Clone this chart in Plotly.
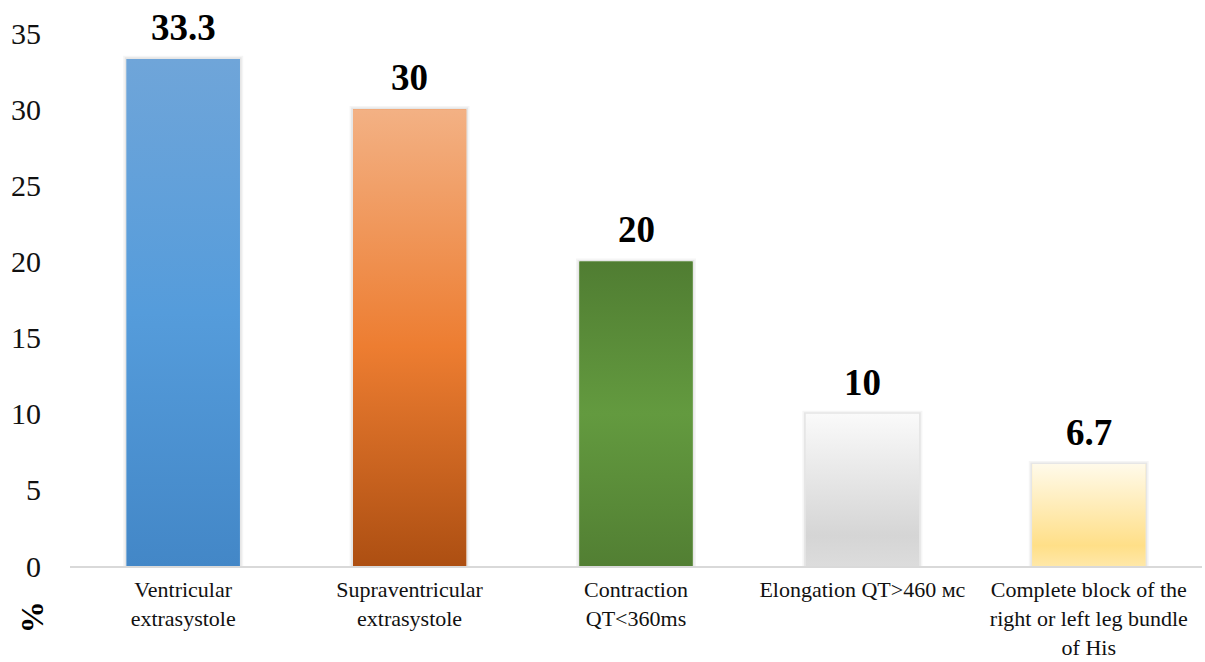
import plotly.graph_objects as go

categories = [
    "Ventricular<br>extrasystole",
    "Supraventricular<br>extrasystole",
    "Contraction<br>QT<360ms",
    "Elongation QT>460 мс",
    "Complete block of the<br>right or left leg bundle<br>of His",
]
values = [33.3, 30, 20, 10, 6.7]
value_labels = ["33.3", "30", "20", "10", "6.7"]
y_ticks = [0, 5, 10, 15, 20, 25, 30, 35]

# vertical gradients (bottom -> top) per bar
gradients = [
    [[0, "#4387c7"], [0.5, "#559cdb"], [1, "#6fa5d9"]],
    [[0, "#ad4f12"], [0.48, "#ed7d31"], [1, "#f3b184"]],
    [[0, "#527f33"], [0.5, "#639a3f"], [1, "#507d32"]],
    [[0, "#dcdcdc"], [0.2, "#d5d5d5"], [1, "#fafafa"]],
    [[0, "#ffe8a8"], [0.2, "#ffdf88"], [1, "#fffaea"]],
]
mid_colors = ["#559cdb", "#ed7d31", "#639a3f", "#e4e4e4", "#ffe9a8"]

BAR_W = 0.5
xs = list(range(len(values)))

fig = go.Figure()

# soft shadow (two faint layers)
for extra_w, extra_h, alpha in [(0.03, 0.2, 0.04), (0.016, 0.1, 0.06)]:
    fig.add_trace(go.Bar(
        x=xs, y=[v + extra_h for v in values], width=BAR_W + extra_w,
        marker=dict(color=f"rgba(0,0,0,{alpha})", line=dict(width=0)),
        hoverinfo="skip", showlegend=False,
    ))
# main bars
fig.add_trace(go.Bar(
    x=xs, y=values, width=BAR_W,
    marker=dict(color=mid_colors, line=dict(width=0)),
    showlegend=False,
))
# gradient overlays
for i, v in enumerate(values):
    x0, x1 = i - BAR_W / 2, i + BAR_W / 2
    fig.add_trace(go.Scatter(
        x=[x0, x1, x1, x0, x0], y=[0, 0, v, v, 0],
        mode="lines", line=dict(width=0), fill="toself",
        fillgradient=dict(type="vertical", colorscale=gradients[i]),
        hoverinfo="skip", showlegend=False,
    ))

for i, (v, t) in enumerate(zip(values, value_labels)):
    fig.add_annotation(
        x=i, y=v, text=f"<b>{t}</b>", showarrow=False,
        yanchor="bottom", yshift=9,
        font=dict(family="Liberation Serif", size=37, color="black"),
    )

fig.add_annotation(
    xref="paper", yref="paper", x=-0.0336, y=-0.096,
    text="<b>%</b>", textangle=-90, showarrow=False,
    xanchor="center", yanchor="middle",
    font=dict(family="Liberation Serif", size=32, color="black"),
)

fig.update_layout(
    width=1205, height=662,
    margin=dict(l=70, r=3, t=33, b=96, autoexpand=False),
    paper_bgcolor="white", plot_bgcolor="white",
    barmode="overlay",
    showlegend=False,
    font=dict(family="Liberation Serif", color="black"),
    xaxis=dict(
        range=[-0.5, 4.5], tickvals=xs, ticktext=categories,
        showgrid=False, zeroline=False, automargin=False,
        showline=True, linecolor="#d9d9d9", linewidth=2,
        ticks="", ticklabelstandoff=3,
        tickfont=dict(family="Liberation Serif", size=22, color="#111111"),
        fixedrange=True,
    ),
    yaxis=dict(
        range=[0, 35], tickvals=y_ticks, automargin=False,
        showgrid=False, zeroline=False, showline=False,
        ticks="", ticklabelstandoff=28,
        tickfont=dict(family="Liberation Serif", size=30, color="#111111"),
        fixedrange=True,
    ),
)

fig.write_html("out.html")
